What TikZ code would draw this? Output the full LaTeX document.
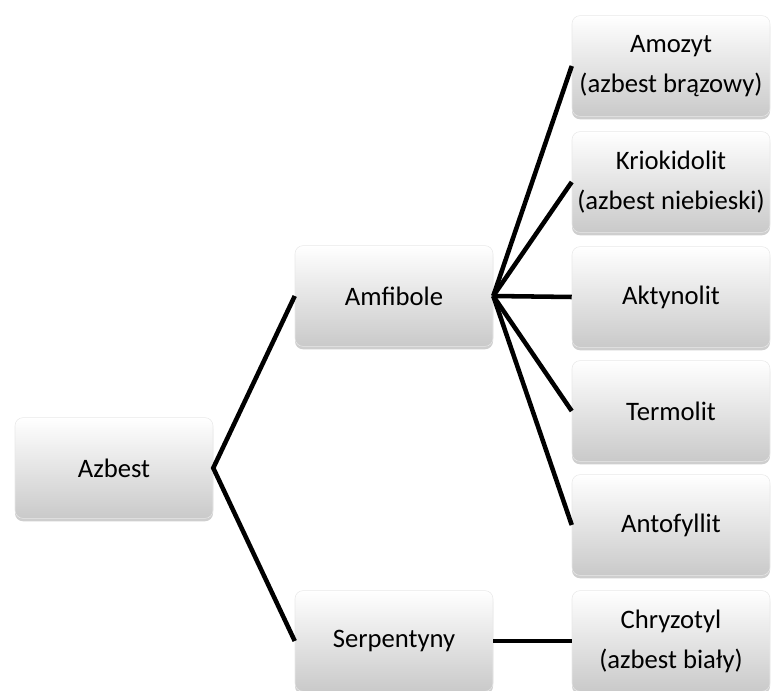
\documentclass[tikz,border=0pt]{standalone}
\usepackage{fontspec}
\setmainfont{Carlito}
\usetikzlibrary{shadows,positioning}
\tikzset{
  kafelek/.style={rectangle, rounded corners=6pt, top color=white, bottom color=gray!42,
    draw=gray!18, line width=0.4pt, minimum width=148.5pt, minimum height=75.5pt,
    inner sep=0pt, align=center, font=\fontsize{20}{30}\selectfont,
    drop shadow={shadow xshift=0pt, shadow yshift=-2.2pt, opacity=0.35, fill=black!55}},
  galaz/.style={line width=3.4pt, black},
}
\begin{document}
\begin{tikzpicture}[x=0.75pt, y=-0.75pt]
\useasboundingbox (0,0) rectangle (771,691);
% pien i dwie grupy
\node[kafelek] (azbest) at (114,468) {Azbest};
\node[kafelek] (amfibole) at (394,296) {Amfibole};
\node[kafelek] (serpentyny) at (394,641) {Serpentyny};
% odmiany
\node[kafelek] (amozyt) at (671,66) {Amozyt\\(azbest brązowy)};
\node[kafelek] (kriokidolit) at (671,182) {Kriokidolit\\(azbest niebieski)};
\node[kafelek] (aktynolit) at (671,297) {Aktynolit};
\node[kafelek] (termolit) at (671,411) {Termolit};
\node[kafelek] (antofyllit) at (671,525) {Antofyllit};
\node[kafelek] (chryzotyl) at (671,641) {Chryzotyl\\(azbest biały)};
% galezie
\draw[galaz] (amfibole.west) -- (azbest.east) -- (serpentyny.west);
\foreach \n in {amozyt,kriokidolit,aktynolit,termolit,antofyllit}
  \draw[galaz] (amfibole.east) -- (\n.west);
\draw[galaz] (serpentyny.east) -- (chryzotyl.west);
\end{tikzpicture}
\end{document}
